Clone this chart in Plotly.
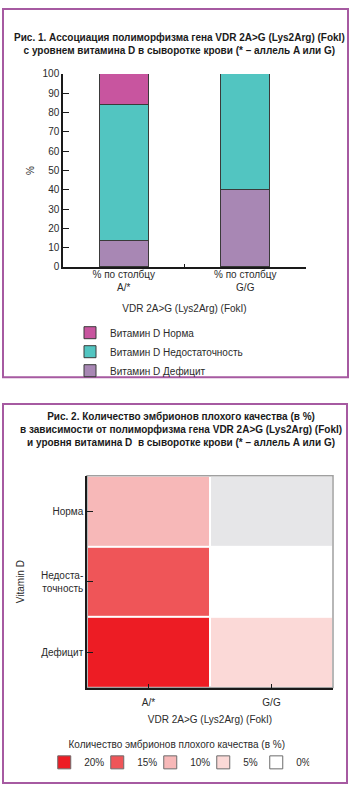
import plotly.graph_objects as go

W, H = 350, 792

# ---------------- data: figure 1 ----------------
genotypes = ["A/*", "G/G"]
genotype_ticklabels = ["% по столбцу<br>A/*", "% по столбцу<br>G/G"]
deficit = [13.5, 40.0]          # Витамин D Дефицит
insufficiency = [70.5, 60.0]    # Витамин D Недостаточность
normal = [16.0, 0.0]            # Витамин D Норма
y_ticks = [0, 10, 20, 30, 40, 50, 60, 70, 80, 90, 100]

# ---------------- data: figure 2 ----------------
vit_levels = ["Дефицит", "Недостаточность", "Норма"]          # bottom -> top
vit_ticklabels = ["Дефицит", "Недоста-<br>точность", "Норма"]
bad_A = [20, 15, 10]       # A/*  : Дефицит, Недостаточность, Норма
bad_GG = [5, 0, None]      # G/G  : Дефицит, Недостаточность, Норма (нет данных)
legend_levels = [20, 15, 10, 5, 0]
legend_colors = ["#ed1c24", "#ef5558", "#f7b8b8", "#fbd9d7", "#ffffff"]

FONT = "Liberation Sans, Arial, sans-serif"
TXT = "#2b2b2b"
FRAME = "#a65aa1"


def px_x(p):
    return p / W


def px_y(p):
    return 1 - p / H


fig = go.Figure()

# ---- stacked bars ----
fig.add_bar(x=genotypes, y=deficit, name="Витамин D Дефицит", legendrank=3,
            marker=dict(color="#a887b4", line=dict(color="#3a3a3a", width=1)),
            xaxis="x", yaxis="y", legend="legend")
fig.add_bar(x=genotypes, y=insufficiency, name="Витамин D Недостаточность", legendrank=2,
            marker=dict(color="#52c5c1", line=dict(color="#3a3a3a", width=1)),
            xaxis="x", yaxis="y", legend="legend")
fig.add_bar(x=genotypes, y=normal, name="Витамин D Норма", legendrank=1,
            marker=dict(color="#c8559f", line=dict(color="#3a3a3a", width=1)),
            xaxis="x", yaxis="y", legend="legend")

# ---- heatmap ----
z = [[bad_A[i], bad_GG[i]] for i in range(len(vit_levels))]
# discrete step colorscale: each level is the centre of a band of width 5
lv_sorted = sorted(zip(legend_levels, legend_colors))
n = len(lv_sorted)
cs = []
for i, (_, c) in enumerate(lv_sorted):
    cs.append([i / n, c])
    cs.append([(i + 1) / n, c])
fig.add_heatmap(x=genotypes, y=vit_levels, z=z, colorscale=cs,
                zmin=min(legend_levels) - 2.5, zmax=max(legend_levels) + 2.5,
                showscale=False, xgap=2, ygap=2, hoverongaps=False,
                xaxis="x2", yaxis="y2", showlegend=False)
# cells without data (grey)
z_missing = [[1 if v is None else None for v in row] for row in z]
fig.add_heatmap(x=genotypes, y=vit_levels, z=z_missing,
                colorscale=[[0, "#e6e6e8"], [1, "#e6e6e8"]],
                showscale=False, xgap=2, ygap=2,
                xaxis="x2", yaxis="y2", showlegend=False)

# ---- legend entries for the heatmap levels ----
for lv, c in zip(legend_levels, legend_colors):
    fig.add_scatter(x=[None], y=[None], mode="markers", name=f"{lv}%",
                    marker=dict(symbol="square", size=13, color=c,
                                line=dict(color="#6b6b6b", width=1)),
                    xaxis="x2", yaxis="y2", legend="legend2")

axis_common = dict(showgrid=False, zeroline=False, showline=True,
                   linecolor="#1a1a1a", linewidth=1.5, ticks="inside",
                   tickcolor="#1a1a1a", tickfont=dict(size=10, color=TXT, family=FONT),
                   fixedrange=True, layer="above traces")

fig.update_layout(
    width=W, height=H, margin=dict(l=0, r=0, t=0, b=0),
    paper_bgcolor="white", plot_bgcolor="white",
    font=dict(family=FONT, size=10, color=TXT),
    barmode="stack", bargap=0.6,
    xaxis=dict(**axis_common, domain=[px_x(63), px_x(306)], anchor="y",
               tickson="boundaries", ticklen=3, ticklabelstandoff=-3,
               tickvals=genotypes, ticktext=genotype_ticklabels,
               title=dict(text="VDR 2A>G (Lys2Arg) (FokI)", standoff=13,
                          font=dict(size=10, color=TXT))),
    yaxis=dict(**axis_common, domain=[px_y(265), px_y(69)], anchor="x",
               range=[0, 100], tickvals=y_ticks, ticklen=6,
               title=dict(text="%", standoff=6, font=dict(size=10, color=TXT))),
    xaxis2=dict(**axis_common, domain=[px_x(87), px_x(333)], anchor="y2",
                ticklen=4, ticklabelstandoff=5,
                title=dict(text="VDR 2A>G (Lys2Arg) (FokI)", standoff=9,
                           font=dict(size=10, color=TXT))),
    yaxis2=dict(**axis_common, domain=[px_y(692), px_y(477)], anchor="x2",
                tickvals=vit_levels, ticktext=vit_ticklabels, ticklen=6,
                title=dict(text="Vitamin D", standoff=14, font=dict(size=10, color=TXT))),
    legend=dict(x=px_x(70), y=px_y(317), xanchor="left", yanchor="top",
                traceorder="normal",
                font=dict(size=10, color=TXT, family=FONT), bgcolor="rgba(0,0,0,0)"),
    legend2=dict(x=0.505, y=px_y(736), xanchor="center", yanchor="top",
                 orientation="h", entrywidth=8, borderwidth=4,
                 bordercolor="rgba(0,0,0,0)",
                 title=dict(text="Количество эмбрионов плохого качества (в %)",
                            side="top center", font=dict(size=10, color=TXT)),
                 font=dict(size=10, color=TXT, family=FONT), bgcolor="rgba(0,0,0,0)"),
)

# titles
fig.add_annotation(x=px_x(179), y=px_y(39), xref="paper", yref="paper", showarrow=False,
                   xanchor="center", yanchor="middle",
                   text="<b>Рис. 1. Ассоциация полиморфизма гена VDR 2A>G (Lys2Arg) (FokI)<br>"
                        "с уровнем витамина D в сыворотке крови (* – аллель A или G)</b>",
                   font=dict(size=10, color="#1a1a1a", family=FONT), align="center")
fig.add_annotation(x=px_x(181), y=px_y(430), xref="paper", yref="paper", showarrow=False,
                   xanchor="center", yanchor="middle",
                   text="<b>Рис. 2. Количество эмбрионов плохого качества (в %)<br>"
                        "в зависимости от полиморфизма гена VDR 2A>G (Lys2Arg) (FokI)<br>"
                        "и уровня витамина D  в сыворотке крови (* – аллель A или G)</b>",
                   font=dict(size=10, color="#1a1a1a", family=FONT), align="center")

# panel frames and heatmap outer frame
fig.add_shape(type="rect", xref="paper", yref="paper",
              x0=px_x(3), x1=px_x(348), y0=px_y(377), y1=px_y(3),
              line=dict(color=FRAME, width=2))
fig.add_shape(type="rect", xref="paper", yref="paper",
              x0=px_x(3), x1=px_x(347), y0=px_y(789), y1=px_y(404),
              line=dict(color=FRAME, width=2))
fig.add_shape(type="rect", xref="x2 domain", yref="y2 domain",
              x0=0, x1=1, y0=0, y1=1, line=dict(color="#a0a0a0", width=1.5), layer="below")

fig.write_html("out.html")
